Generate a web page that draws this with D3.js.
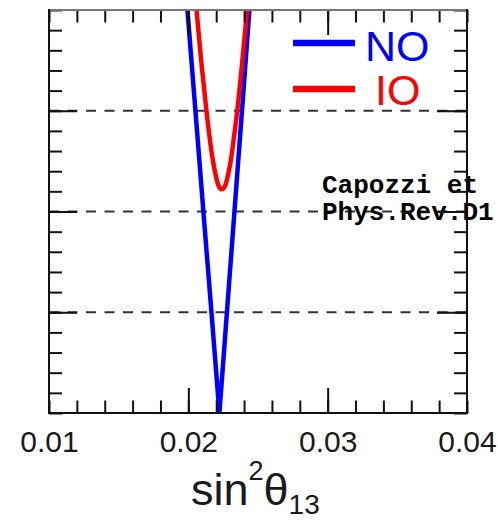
<!DOCTYPE html>
<html>
<head>
<meta charset="utf-8">
<script src="https://cdn.jsdelivr.net/npm/d3@7"></script>
<style>
  html, body { margin: 0; padding: 0; background: #fff; overflow: hidden; }
  svg { display: block; }
</style>
</head>
<body>
<svg id="chart" width="498" height="520"></svg>
<script>
// Number of standard deviations vs sin^2(theta_13), normal (NO) and inverted (IO) ordering
const xDomain = [0.01, 0.04];
const yDomain = [0, 4];
const xLabelTicks = [0.01, 0.02, 0.03, 0.04];
const xMajorTicks = [0.02, 0.03];
const sigmaLines = [1, 2, 3];

// NO curve: sin^2(theta13) and N-sigma
const noX     = [0.01982, 0.02051, 0.02108, 0.02166, 0.02223, 0.02277, 0.02331, 0.02385, 0.02449];
const noSigma = [4.2,     3.0,     2.0,     1.0,     0.0,     1.0,     2.0,     3.0,     4.2];

// IO curve: sin^2(theta13) and N-sigma
const ioX     = [0.02046, 0.02059, 0.02092, 0.02130, 0.02156, 0.02177, 0.02198, 0.02216, 0.02240,
                 0.02265, 0.02283, 0.02304, 0.02324, 0.02351, 0.02388, 0.02422, 0.02435];
const ioSigma = [4.2,     4.0,     3.5,     3.0,     2.7,     2.5,     2.35,    2.26,    2.22,
                 2.26,    2.35,    2.5,     2.7,     3.0,     3.5,     4.0,     4.2];

const seriesNames  = ["NO", "IO"];
const seriesColors = ["#0000ff", "#ff0000"];
const noteLines = ["Capozzi et", "Phys.Rev.D1"];

const plot = { left: 49, right: 467, top: 10, bottom: 413 };

const svg = d3.select("#chart");

const x = d3.scaleLinear().domain(xDomain).range([plot.left, plot.right]);
const y = d3.scaleLinear().domain(yDomain).range([plot.bottom, plot.top]);

svg.append("defs").append("clipPath").attr("id", "plotClip")
  .append("rect")
  .attr("x", plot.left).attr("y", plot.top)
  .attr("width", plot.right - plot.left).attr("height", plot.bottom - plot.top);

// dashed sigma levels
svg.append("g").selectAll("line").data(sigmaLines).join("line")
  .attr("x1", plot.left).attr("x2", plot.right)
  .attr("y1", d => y(d)).attr("y2", d => y(d))
  .attr("stroke", "#333").attr("stroke-width", 2)
  .attr("stroke-dasharray", "10,8.5");

// reference note
svg.append("g").selectAll("text").data(noteLines).join("text")
  .attr("x", 322).attr("y", (d, i) => 193 + i * 27)
  .attr("font-family", "'Liberation Mono', 'DejaVu Sans Mono', monospace")
  .attr("font-weight", "bold")
  .attr("font-size", 26)
  .attr("fill", "#000")
  .text(d => d);

// curves
const series = [
  { name: seriesNames[0], color: seriesColors[0], pts: noX.map((v, i) => [v, noSigma[i]]), curve: d3.curveLinear },
  { name: seriesNames[1], color: seriesColors[1], pts: ioX.map((v, i) => [v, ioSigma[i]]), curve: d3.curveMonotoneX }
];

const curves = svg.append("g").attr("clip-path", "url(#plotClip)");
series.forEach(s => {
  curves.append("path")
    .attr("d", d3.line().x(d => x(d[0])).y(d => y(d[1])).curve(s.curve)(s.pts))
    .attr("fill", "none")
    .attr("stroke", s.color)
    .attr("stroke-width", 4.5)
    .attr("stroke-linejoin", "miter");
});

// legend
const legend = svg.append("g");
const legendRows = [
  { y: 43, textX: 365, baseline: 61 },
  { y: 89, textX: 375, baseline: 105 }
];
series.forEach((s, i) => {
  const r = legendRows[i];
  legend.append("line")
    .attr("x1", 293).attr("x2", 355).attr("y1", r.y).attr("y2", r.y)
    .attr("stroke", s.color).attr("stroke-width", 6.5);
  legend.append("text")
    .attr("x", r.textX).attr("y", r.baseline)
    .attr("font-family", "'Liberation Sans', Arial, sans-serif")
    .attr("font-size", 43)
    .attr("fill", s.color)
    .text(s.name);
});

// axes: inward ticks on all four sides
function styleAxis(g) {
  g.select(".domain").remove();
  g.selectAll(".tick line").attr("stroke", "#111").attr("stroke-width", 2);
}
const minorX = x.ticks(15);
const minorY = y.ticks(20);

svg.append("g").attr("transform", `translate(0,${plot.bottom})`)
  .call(d3.axisBottom(x).tickValues(minorX).tickSize(-12.5).tickFormat("")).call(styleAxis);
svg.append("g").attr("transform", `translate(0,${plot.bottom})`)
  .call(d3.axisBottom(x).tickValues(xMajorTicks).tickSize(-25).tickFormat("")).call(styleAxis);
svg.append("g").attr("transform", `translate(0,${plot.top})`)
  .call(d3.axisTop(x).tickValues(minorX).tickSize(-12.5).tickFormat("")).call(styleAxis);
svg.append("g").attr("transform", `translate(0,${plot.top})`)
  .call(d3.axisTop(x).tickValues(xMajorTicks).tickSize(-25).tickFormat("")).call(styleAxis);

svg.append("g").attr("transform", `translate(${plot.left},0)`)
  .call(d3.axisLeft(y).tickValues(minorY).tickSize(-13).tickFormat("")).call(styleAxis);
svg.append("g").attr("transform", `translate(${plot.left},0)`)
  .call(d3.axisLeft(y).tickValues(sigmaLines).tickSize(-28).tickFormat("")).call(styleAxis);
svg.append("g").attr("transform", `translate(${plot.right},0)`)
  .call(d3.axisRight(y).tickValues(minorY).tickSize(-13).tickFormat("")).call(styleAxis);
svg.append("g").attr("transform", `translate(${plot.right},0)`)
  .call(d3.axisRight(y).tickValues(sigmaLines).tickSize(-30).tickFormat("")).call(styleAxis);

// tick labels
const labelAxis = svg.append("g").attr("transform", `translate(0,${plot.bottom})`)
  .call(d3.axisBottom(x).tickValues(xLabelTicks).tickSize(0).tickPadding(18).tickFormat(d3.format(".2f")));
labelAxis.select(".domain").remove();
labelAxis.selectAll("text")
  .attr("font-family", "'Liberation Sans', Arial, sans-serif")
  .attr("font-size", 30)
  .attr("fill", "#1a1a1a");

// frame
const frame = svg.append("g").attr("fill", "none").attr("stroke-width", 2);
frame.append("line").attr("x1", plot.left).attr("x2", plot.right).attr("y1", plot.top).attr("y2", plot.top)
  .attr("stroke", "#777");
frame.append("path")
  .attr("d", `M${plot.left},${plot.top - 1}V${plot.bottom}H${plot.right}V${plot.top - 1}`)
  .attr("stroke", "#111");

// axis title
const title = svg.append("text")
  .attr("x", 191).attr("y", 505)
  .attr("font-family", "'Liberation Sans', Arial, sans-serif")
  .attr("font-size", 45)
  .attr("fill", "#1a1a1a");
title.append("tspan").text("sin");
title.append("tspan").attr("font-size", 27).attr("dy", -25).text("2");
title.append("tspan").attr("dy", 25).text("θ");
title.append("tspan").attr("font-size", 28).attr("dy", 9).text("13");
</script>
</body>
</html>
